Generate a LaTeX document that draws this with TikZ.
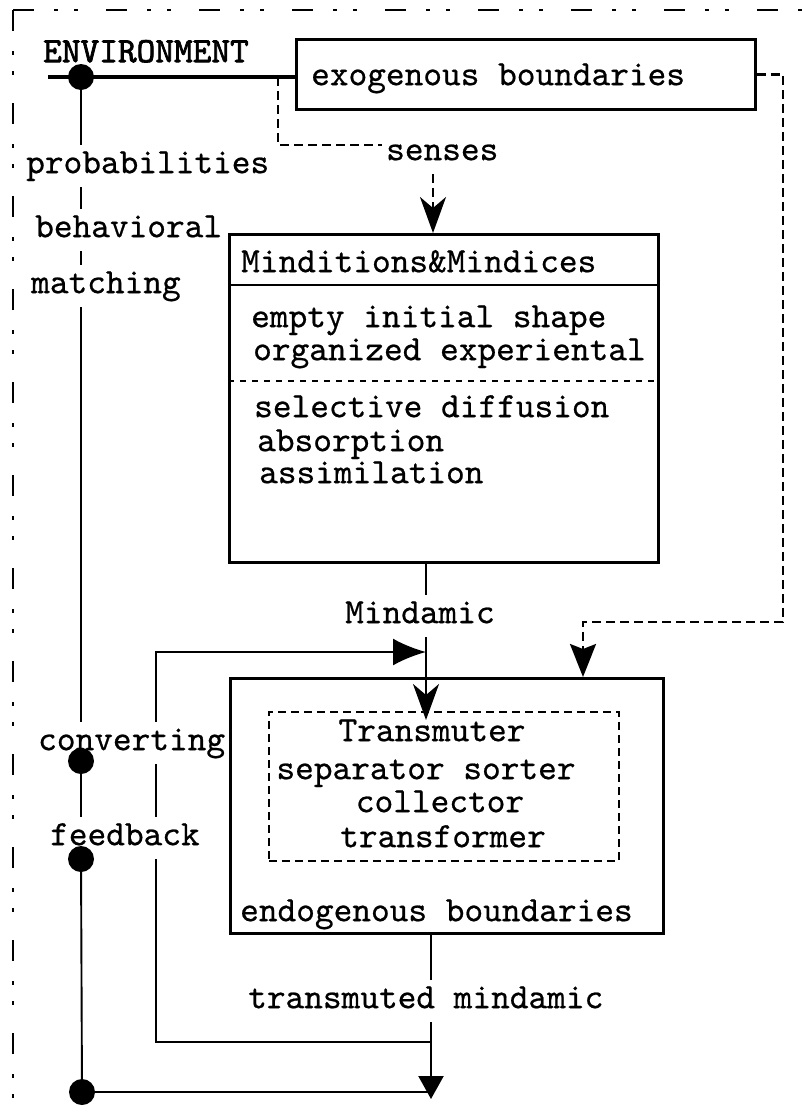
\documentclass[tikz,border=0pt]{standalone}
\usepackage{fontspec}
\usetikzlibrary{arrows.meta,calc}
\newfontfamily\diagtt{lmmono10-regular.otf}[FakeBold=0.6]
\newfontfamily\diagttbold{lmmono10-regular.otf}[FakeBold=2]

\begin{document}
\begin{tikzpicture}[x=1pt,y=-1pt,
  txt/.style={font=\diagtt\fontsize{35.6}{40}\selectfont, inner sep=0pt},
  lbl/.style={txt, fill=white, inner xsep=4pt, inner ysep=6pt,
    text height=22pt, text depth=8pt, anchor=mid west},
  box/.style={draw, line width=2.6pt, inner sep=0pt, anchor=north west},
  dbox/.style={draw, line width=1.6pt, dash pattern=on 8pt off 5pt,
    inner sep=0pt, anchor=north west},
  conn/.style={line width=2.2pt},
  thinconn/.style={line width=1.9pt},
  dconn/.style={line width=2.4pt, dash pattern=on 9pt off 5pt},
  dot/.style={circle, fill, inner sep=0pt, minimum size=26pt},
  frameline/.style={line width=2.4pt,
    dash pattern=on 21pt off 20pt on 4pt off 16pt on 4pt off 28pt},
  notchtip/.style={-{Stealth[length=36pt,width=26pt,inset=11pt]}},
  flattip/.style={-{Stealth[length=33pt,width=26pt,inset=5pt]}},
  looptip/.style={-{Latex[length=33pt,width=27pt]}},
  endtip/.style={-{Triangle[length=23pt,width=25pt]}},
]
\useasboundingbox (0,0) rectangle (802,1120);

% environment frame (dash-dot-dot)
\coordinate (frameCorner) at (13,10);
\coordinate (frameBottom) at (13,1120);
\coordinate (frameRight) at (802,10);
\draw[frameline] (frameCorner) -- (frameBottom);
\draw[frameline] (frameCorner) -- (frameRight);

% boxes
\node[box, minimum width=459pt, minimum height=70pt] (exo) at (295,38) {};
\node[box, minimum width=429pt, minimum height=328pt] (mind) at (228,233) {};
\node[box, minimum width=433pt, minimum height=255pt] (endo) at (229,677) {};
\node[dbox, minimum width=350pt, minimum height=149pt] (trans) at (268,711) {};

% compartments of the Minditions box
\draw[line width=2.6pt] ($(mind.north west)+(0,52)$) -- ($(mind.north east)+(0,52)$);
\draw[line width=1.4pt, dash pattern=on 6pt off 6pt]
  ($(mind.north west)+(0,148)$) -- ($(mind.north east)+(0,148)$);

% box texts
\node[txt, anchor=mid west] (envText) at (43,60) {\diagttbold ENVIRONMENT};
\node[txt, anchor=mid west] (exoText) at (311,83) {exogenous boundaries};
\node[txt, anchor=mid west] (mindHead) at (241,270) {Minditions\&Mindices};
\node[txt, anchor=mid west] (mindA) at (251,325) {empty initial shape};
\node[txt, anchor=mid west] (mindB) at (253,358) {organized experiental};
\node[txt, anchor=mid west] (mindC) at (254,415) {selective diffusion};
\node[txt, anchor=mid west] (mindD) at (257,449) {absorption};
\node[txt, anchor=mid west] (mindE) at (259,481) {assimilation};
\node[txt, anchor=mid] (transA) at (432,739) {Transmuter};
\node[txt, anchor=mid] (transB) at (426,777) {separator sorter};
\node[txt, anchor=mid] (transC) at (440,810) {collector};
\node[txt, anchor=mid] (transD) at (443,845) {transformer};
\node[txt, anchor=mid west] (endoText) at (240,919) {endogenous boundaries};

% junction points
\coordinate (envStart) at (48,77);
\coordinate (p0) at (81,77);
\coordinate (p1) at (81,761);
\coordinate (p2) at (81,859);
\coordinate (p3) at (82,1092);
\coordinate (senseTap) at (278,77);
\coordinate (senseCorner) at (278,145);
\coordinate (senseTurn) at (433,145);
\coordinate (rail) at (783,622);
\coordinate (drop) at (583,622);
\coordinate (mindOut) at ($(mind.south west)+(198,0)$);
\coordinate (endoOut) at ($(endo.south west)+(202,0)$);
\coordinate (loopIn) at (426,652);
\coordinate (loopOut) at (431,1042);
\coordinate (loopX) at (156,0);

% solid connectors
\draw[line width=3.4pt] (envStart) -- (envStart -| exo.west);
\draw[thinconn] (p0) -- (p1) -- (p2) -- (p3);
\draw[conn] (p3) -- (p3 -| endoOut);
\draw[conn, notchtip, shorten >=-9pt] (mindOut) -- (mindOut |- trans.north);
\draw[conn, endtip, shorten >=-7pt] (endoOut) -- (endoOut |- p3);
\draw[conn, looptip] (loopOut) -- (loopOut -| loopX) -- (loopX |- loopIn) -- (loopIn);

% dashed connectors
\draw[dconn, notchtip] (senseTap) -- (senseCorner) -- (senseTurn) -- (senseTurn |- mind.north);
\draw[dconn, flattip] (exo.east) -| (rail) -- (drop) -- (drop |- endo.north);

% labels sitting on the lines
\node[lbl] (lProb) at (22,171) {probabilities};
\node[lbl] (lBeh) at (31,235) {behavioral};
\node[lbl] (lMatch) at (27,291) {matching};
\node[lbl] (lConv) at (34,748) {converting};
\node[lbl] (lFeed) at (46,843) {feedback};
\node[lbl] (lSenses) at (382,158) {senses};
\node[lbl] (lMindamic) at (341,621) {Mindamic};
\node[lbl] (lTrans) at (244,1006) {transmuted mindamic};

% junction dots
\node[dot] (dot0) at (p0) {};
\node[dot] (dot1) at (p1) {};
\node[dot] (dot2) at (p2) {};
\node[dot] (dot3) at (p3) {};
\end{tikzpicture}
\end{document}
